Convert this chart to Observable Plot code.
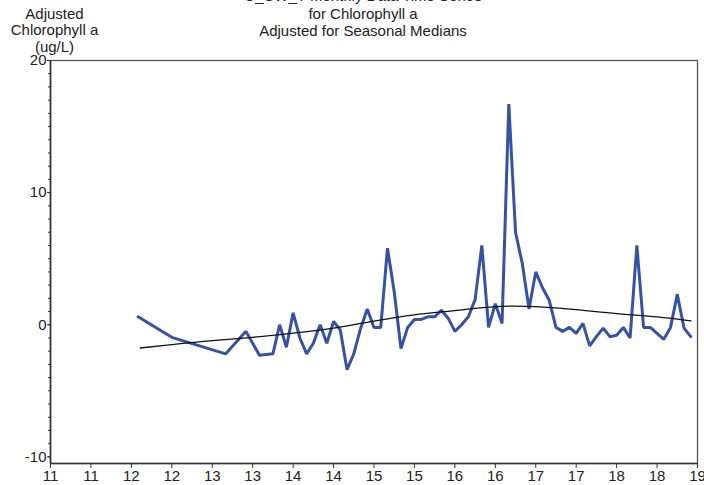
<!DOCTYPE html>
<html>
<head>
<meta charset="utf-8">
<script src="https://cdn.jsdelivr.net/npm/d3@7"></script>
<script src="https://cdn.jsdelivr.net/npm/@observablehq/plot@0.6"></script>
<style>
  html, body { margin: 0; padding: 0; background: #fff; }
  #chart { width: 704px; height: 485px; overflow: hidden; }
</style>
</head>
<body>
<div id="chart"></div>
<script>
// Observed monthly values (year-month) and adjusted chlorophyll a (ug/L)
const dates = [
  "2012-02","2012-07","2013-03","2013-06",
  "2013-08","2013-09","2013-10","2013-11","2013-12",
  "2014-01","2014-02","2014-03","2014-04","2014-05","2014-06","2014-07","2014-08","2014-09","2014-10","2014-11","2014-12",
  "2015-01","2015-02","2015-03","2015-04","2015-05","2015-06","2015-07","2015-08","2015-09","2015-10","2015-11","2015-12",
  "2016-01","2016-02","2016-03","2016-04","2016-05","2016-06","2016-07","2016-08","2016-09","2016-10","2016-11","2016-12",
  "2017-01","2017-02","2017-03","2017-04","2017-05","2017-06","2017-07","2017-08","2017-09","2017-10","2017-11","2017-12",
  "2018-01","2018-02","2018-03","2018-04","2018-05","2018-06","2018-07","2018-08","2018-09","2018-10","2018-11","2018-12"
];
const chl = [
  0.6, -0.95, -2.2, -0.5,
  -2.3, -2.25, -2.2, 0.0, -1.7,
  0.9, -1.0, -2.2, -1.4, 0.0, -1.4, 0.25, -0.4, -3.4, -2.2, -0.3, 1.2,
  -0.2, -0.2, 5.8, 2.5, -1.8, -0.2, 0.4, 0.4, 0.6, 0.6, 1.1, 0.5,
  -0.5, 0.0, 0.6, 1.9, 6.0, -0.2, 1.6, 0.1, 16.7, 7.0, 4.65, 1.2,
  4.0, 2.8, 1.85, -0.2, -0.5, -0.2, -0.65, 0.1, -1.6, -0.9, -0.25, -0.9,
  -0.8, -0.2, -1.0, 6.0, -0.2, -0.2, -0.65, -1.1, -0.2, 2.3, -0.25, -0.9
];
// Smooth trend line
const trendTime = [2012.11, 2012.5, 2013.0, 2013.5, 2014.0, 2014.5, 2015.0, 2015.5, 2016.0, 2016.5, 2017.0, 2017.5, 2018.0, 2018.5, 2018.92];
const trendValue = [-1.76, -1.5, -1.2, -0.95, -0.64, -0.25, 0.27, 0.75, 1.07, 1.38, 1.37, 1.15, 0.85, 0.6, 0.29];

const xTicks = d3.range(2011, 2019.001, 0.5);
const yMajor = [-10, 0, 10, 20];
const yMinor = d3.range(-10, 20.001, 1);

const titleLines = "C_CW_T Monthly Data Time Series\nfor Chlorophyll a\nAdjusted for Seasonal Medians";
const yTitle = "Adjusted\nChlorophyll a\n(ug/L)";

const toYear = s => { const [y, m] = s.split("-").map(Number); return y + (m - 1) / 12; };
const series = dates.map((d, i) => ({t: toYear(d), v: chl[i]}));
const trend = trendTime.map((t, i) => ({t, v: trendValue[i]}));

const font = "'Liberation Sans', Arial, sans-serif";

const chart = Plot.plot({
  width: 704,
  height: 485,
  marginLeft: 50,
  marginRight: 7,
  marginTop: 60,
  marginBottom: 22,
  style: {fontFamily: font, fontSize: "15px", color: "#222", background: "#fff", overflow: "visible"},
  x: {domain: [2011, 2019], axis: null, label: null},
  y: {domain: [-10.5, 20], axis: null, label: null},
  marks: [
    Plot.frame({stroke: "#555", strokeWidth: 1.3}),
    Plot.line(series, {x: "t", y: "v", stroke: "#3652a5", strokeWidth: 3, strokeLinejoin: "miter"}),
    Plot.line(trend, {x: "t", y: "v", stroke: "#111", strokeWidth: 1.3, curve: "natural"}),
    // y axis
    Plot.axisY({ticks: yMinor, tickSize: 2, tickFormat: () => "", label: null, stroke: "#333"}),
    Plot.axisY({ticks: yMajor, tickSize: 3, tickPadding: 1, tickFormat: d => String(d), label: null, fill: "#222", fontSize: 15, stroke: "#333"}),
    Plot.ruleX([2011], {stroke: "#333", strokeWidth: 1.6}),
    // x axis
    Plot.axisX({ticks: xTicks, tickSize: 5, tickPadding: 2, tickFormat: d => String(Math.floor(d) % 100), label: null, fill: "#222", fontSize: 15, stroke: "#333"}),
    Plot.ruleY([-10.5], {stroke: "#333", strokeWidth: 1.6}),
    // titles
    Plot.text([titleLines], {frameAnchor: "top", dx: -11, dy: -72, lineAnchor: "top", lineHeight: 1.17, fontSize: 15, fill: "#222", text: d => d, textAnchor: "middle"}),
    Plot.text([yTitle], {frameAnchor: "top-left", dx: 4, dy: -54, lineAnchor: "top", lineHeight: 1.13, fontSize: 15, fill: "#222", text: d => d, textAnchor: "middle"})
  ]
});
document.getElementById("chart").appendChild(chart);
</script>
</body>
</html>
